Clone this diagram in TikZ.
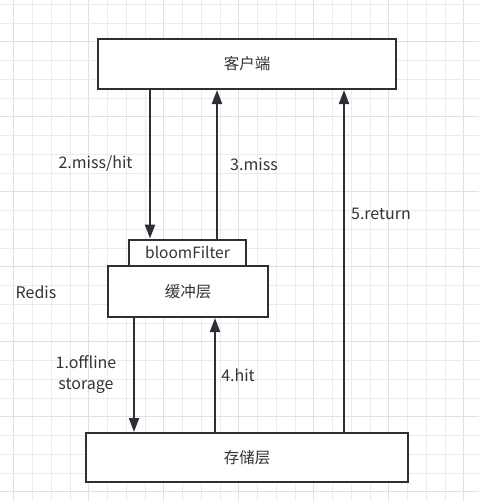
\documentclass[tikz,border=0pt]{standalone}
\usepackage{fontspec}
\setmainfont{Noto Sans CJK SC}
\usetikzlibrary{arrows.meta}
\definecolor{linec}{HTML}{2B3036}
\definecolor{textc}{HTML}{333333}
\definecolor{gridminor}{HTML}{EBEBEB}
\definecolor{gridmajor}{HTML}{E0E0E0}
\tikzset{
  box/.style={draw=linec, line width=2pt, fill=white, inner sep=0pt, font=\fontsize{15.5}{18}\selectfont, text=textc},
  conn/.style={draw=linec, line width=2.2pt, -{Triangle[length=14pt,width=10pt]}},
  lbl/.style={font=\fontsize{16}{20.5}\selectfont, text=textc, inner sep=0pt, align=center},
}
\begin{document}
\begin{tikzpicture}[x=1pt,y=-1pt]
\useasboundingbox (0,0) rectangle (479,501);
\fill[white] (0,0) rectangle (479,501);
% grid
\foreach \k in {0,...,24} {
  \pgfmathsetmacro{\xx}{13.7+18.75*\k}
  \pgfmathtruncatemacro{\m}{mod(\k,4)}
  \ifnum\m=0
    \draw[gridmajor, line width=1.2pt] (\xx,0) -- (\xx,501);
  \else
    \draw[gridminor, line width=0.9pt] (\xx,0) -- (\xx,501);
  \fi
}
\foreach \k in {0,...,26} {
  \pgfmathsetmacro{\yy}{4.2+18.75*\k}
  \pgfmathtruncatemacro{\m}{mod(\k,4)}
  \ifnum\m=2
    \draw[gridmajor, line width=1.2pt] (0,\yy) -- (479,\yy);
  \else
    \draw[gridminor, line width=0.9pt] (0,\yy) -- (479,\yy);
  \fi
}
% boxes
\node[box, minimum width=298pt, minimum height=50pt] (client) at (247,64) {客户端};
\node[box, minimum width=117pt, minimum height=26pt] (bloom) at (187.5,252.5) {bloomFilter};
\node[box, minimum width=160pt, minimum height=51pt] (cache) at (188,291.5) {缓冲层};
\node[box, minimum width=322pt, minimum height=49pt] (store) at (247,457.5) {存储层};
% connectors
\coordinate (c2) at (150,0);
\coordinate (c3) at (217,0);
\coordinate (c5) at (344,0);
\coordinate (c1) at (134,0);
\coordinate (c4) at (215,0);
\draw[conn] (client.south -| c2) -- (bloom.north -| c2);
\draw[conn] (bloom.north -| c3) -- (client.south -| c3);
\draw[conn] (store.north -| c5) -- (client.south -| c5);
\draw[conn] (cache.south -| c1) -- (store.north -| c1);
\draw[conn] (store.north -| c4) -- (cache.south -| c4);
% labels
\node[lbl] (l2) at (95.5,164) {2.miss/hit};
\node[lbl] (l3) at (254,164) {3.miss};
\node[lbl] (l5) at (381,214) {5.return};
\node[lbl] (lr) at (36,292) {Redis};
\node[lbl] (l1) at (86,374.5) {1.offline\\storage};
\node[lbl] (l4) at (238,375) {4.hit};
\end{tikzpicture}
\end{document}
